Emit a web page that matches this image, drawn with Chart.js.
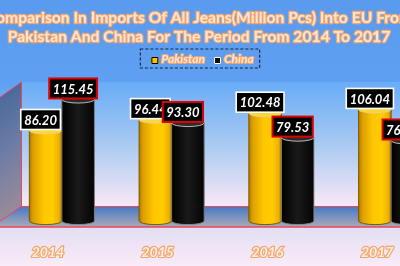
<!DOCTYPE html>
<html><head><meta charset="utf-8">
<script src="https://cdn.jsdelivr.net/npm/chart.js@4.4.0/dist/chart.umd.min.js"></script>
<style>
html,body{margin:0;padding:0;width:400px;height:266px;overflow:hidden;background:#5B9BF0}
#wrap{position:relative;width:400px;height:266px;overflow:hidden}
#box{position:absolute;left:-60px;top:0;width:520px;height:266px}
canvas{display:block}
</style></head><body>
<div id="wrap"><div id="box"><canvas id="c" width="520" height="266"></canvas></div></div>
<script>
const titleLines = ['Comparison In Imports Of All Jeans(Million Pcs) Into EU From', 'Pakistan And China For The Period From 2014 To 2017'];
const categories = ['2014', '2015', '2016', '2017'];
const seriesNames = ['Pakistan', 'China'];
const pakistan = [86.20, 96.44, 102.48, 106.04];
const china = [115.45, 93.30, 79.53, 76.80];
const yMax = 130;

const FONT = 'Lato';
const seriesFill = ['#FFC000', '#0D0D0D'];
const labelBorder = ['#FFFFFF', '#E00000'];

function drawWalls(chart) {
  const ctx = chart.ctx, ca = chart.chartArea, W = chart.width, H = chart.height;
  ctx.save();
  let g = ctx.createLinearGradient(0, 0, 0, H);
  g.addColorStop(0, '#5A9AEF');
  g.addColorStop(0.31, '#5FA0F2');
  g.addColorStop(0.853, '#E3DEF2');
  g.addColorStop(1, '#FAEBF8');
  ctx.fillStyle = g; ctx.fillRect(0, 0, W, H);
  const bwL = ca.left + 14, bwT = ca.top - 1, bwB = ca.bottom - 15, flF = ca.bottom + 6;
  const k = 15 / 21;
  const g2 = ctx.createLinearGradient(0, bwT, 0, bwB);
  g2.addColorStop(0, '#68ACF7'); g2.addColorStop(0.5, '#A9C9F2'); g2.addColorStop(1, '#F8E8F6');
  ctx.fillStyle = g2; ctx.fillRect(bwL, bwT, W - bwL, bwB - bwT);
  const g3 = ctx.createLinearGradient(0, bwB, 0, flF);
  g3.addColorStop(0, '#4677C6'); g3.addColorStop(1, '#A9A9B7');
  ctx.fillStyle = g3;
  ctx.fillRect(0, bwB, W, flF - bwB);
  for (let x = 0; x < bwL; x++) {
    const t = bwT + (bwL - x) * k, b = bwB + (bwL - x) * k;
    const gs = ctx.createLinearGradient(0, t, 0, b);
    gs.addColorStop(0, '#4A6A9C'); gs.addColorStop(0.5, '#707EA4'); gs.addColorStop(1, '#9A8A9A');
    ctx.fillStyle = gs;
    ctx.fillRect(x, t, 1, b - t);
  }
  ctx.strokeStyle = '#E8485A'; ctx.lineWidth = 1;
  ctx.beginPath();
  ctx.moveTo(0, bwT + bwL * k); ctx.lineTo(bwL + 0.5, bwT); ctx.lineTo(bwL + 0.5, bwB + 0.5);
  ctx.lineTo(W, bwB + 0.5);
  ctx.moveTo(bwL, bwB + 0.5); ctx.lineTo(0, bwB + bwL * k);
  ctx.stroke();
  ctx.lineWidth = 1.6;
  ctx.beginPath(); ctx.moveTo(0, flF); ctx.lineTo(W, flF); ctx.stroke();
  ctx.restore();
}

const bgPlugin = {
  id: 'bg3d',
  beforeDraw(chart) { drawWalls(chart); }
};

function drawCyl(ctx, x0, x1, yTop, yBase, ry, type) {
  const cx = (x0 + x1) / 2, rx = (x1 - x0) / 2;
  const g = ctx.createLinearGradient(x0, 0, x1, 0);
  if (type === 0) {
    g.addColorStop(0, '#B07A00'); g.addColorStop(0.12, '#DDA000'); g.addColorStop(0.45, '#FFC600');
    g.addColorStop(0.72, '#FFCD00'); g.addColorStop(0.92, '#EEB000'); g.addColorStop(1, '#A87800');
  } else {
    g.addColorStop(0, '#000000'); g.addColorStop(0.5, '#1A1A1A'); g.addColorStop(1, '#040404');
  }
  ctx.beginPath();
  ctx.moveTo(x0, yTop);
  ctx.lineTo(x0, yBase);
  ctx.ellipse(cx, yBase, rx, ry, 0, Math.PI, 0, true);
  ctx.lineTo(x1, yTop);
  ctx.ellipse(cx, yTop, rx, ry, 0, 0, Math.PI, true);
  ctx.closePath();
  ctx.fillStyle = g; ctx.fill();
  ctx.lineWidth = 0.9; ctx.strokeStyle = type === 0 ? '#6E5200' : '#8A8A8A'; ctx.stroke();
  ctx.beginPath();
  ctx.ellipse(cx, yTop, rx, ry, 0, 0, Math.PI * 2);
  ctx.fillStyle = type === 0 ? '#FFD63A' : '#2A2A2A'; ctx.fill();
  ctx.strokeStyle = type === 0 ? '#E8D080' : '#C8C8C8'; ctx.lineWidth = 0.9; ctx.stroke();
}

const cylPlugin = {
  id: 'cyl',
  afterDatasetsDraw(chart) {
    const ctx = chart.ctx;
    ctx.save();
    chart.data.datasets.forEach((ds, di) => {
      chart.getDatasetMeta(di).data.forEach(el => {
        const p = el.getProps(['x', 'y', 'base', 'width'], true);
        drawCyl(ctx, p.x - p.width / 2, p.x + p.width / 2, p.y + 1, p.base, 3.6, di);
      });
    });
    ctx.font = 'italic bold 13px ' + FONT;
    ctx.textAlign = 'center'; ctx.textBaseline = 'middle';
    chart.data.datasets.forEach((ds, di) => {
      chart.getDatasetMeta(di).data.forEach((el, i) => {
        const p = el.getProps(['x', 'y'], true);
        const txt = ds.data[i].toFixed(2);
        const w = ctx.measureText(txt).width + 7, h = 20;
        const cx = p.x - 5, bot = p.y;
        ctx.fillStyle = '#000';
        ctx.fillRect(cx - w / 2, bot - h, w, h);
        ctx.lineWidth = di === 0 ? 1.6 : 2;
        ctx.strokeStyle = labelBorder[di];
        ctx.strokeRect(cx - w / 2, bot - h, w, h);
        ctx.fillStyle = '#FFFFFF';
        ctx.fillText(txt, cx, bot - h / 2 + 1);
      });
    });
    ctx.restore();
  }
};

function outlinedText(ctx, t, x, y, stroke, fill, lw) {
  ctx.lineJoin = 'round';
  ctx.strokeStyle = stroke; ctx.lineWidth = lw; ctx.strokeText(t, x, y);
  ctx.fillStyle = fill; ctx.fillText(t, x, y);
}

const headPlugin = {
  id: 'head',
  afterDraw(chart) {
    const ctx = chart.ctx;
    ctx.save();
    const cx = 259;
    let fs = 16;
    ctx.font = 'bold ' + fs + 'px ' + FONT;
    fs = fs * 383 / ctx.measureText(titleLines[1]).width;
    ctx.font = 'bold ' + fs.toFixed(2) + 'px ' + FONT;
    ctx.textAlign = 'center'; ctx.textBaseline = 'middle';
    outlinedText(ctx, titleLines[0], cx, 17.5, '#F2A66A', '#FCE6D8', 2.4);
    outlinedText(ctx, titleLines[1], cx, 36.5, '#F2A66A', '#FCE6D8', 2.4);
    ctx.font = 'italic bold 12px ' + FONT;
    ctx.textAlign = 'left';
    const tw = chart.data.datasets.map(d => ctx.measureText(d.label).width);
    const padL = 11, mk = 7, gap = 3, itemGap = 9, padR = 6;
    const total = padL + mk + gap + tw[0] + itemGap + mk + gap + tw[1] + padR;
    const bx = 260 - total / 2, by = 49, bh = 19;
    ctx.setLineDash([3, 2]);
    ctx.strokeStyle = '#1B2638'; ctx.lineWidth = 1.2;
    ctx.strokeRect(bx, by, total, bh);
    ctx.setLineDash([]);
    let x = bx + padL;
    chart.data.datasets.forEach((d, i) => {
      ctx.fillStyle = seriesFill[i];
      ctx.fillRect(x, 57, mk, mk);
      ctx.strokeStyle = i === 0 ? '#000' : '#FFFFFF'; ctx.lineWidth = 1;
      ctx.strokeRect(x + 0.5, 57.5, mk - 1, mk - 1);
      x += mk + gap;
      outlinedText(ctx, d.label, x, 59.5, '#F2A66A', '#FCE6D8', 2);
      x += tw[i] + itemGap;
    });
    ctx.restore();
  }
};

new Chart(document.getElementById('c'), {
  type: 'bar',
  data: {
    labels: categories,
    datasets: [
      { label: seriesNames[0], data: pakistan, backgroundColor: seriesFill[0] },
      { label: seriesNames[1], data: china, backgroundColor: seriesFill[1] }
    ]
  },
  options: {
    responsive: false,
    animation: false,
    devicePixelRatio: 1,
    layout: { padding: { top: 83, left: 67, right: 14, bottom: 8 } },
    datasets: { bar: { categoryPercentage: 0.593, barPercentage: 1.0 } },
    plugins: { legend: { display: false }, title: { display: false }, tooltip: { enabled: false } },
    scales: {
      x: {
        grid: { display: false, drawTicks: false },
        border: { display: false },
        afterFit(scale) { scale.height = 37; },
        ticks: {
          color: '#FDEFE6', textStrokeColor: '#F2A66A', textStrokeWidth: 2.4,
          font: { family: FONT, size: 14, weight: 'bold', style: 'italic' },
          padding: 23, labelOffset: -14, maxRotation: 0
        }
      },
      y: { display: false, min: 0, max: yMax }
    }
  },
  plugins: [bgPlugin, cylPlugin, headPlugin]
});
</script>
</body></html>
